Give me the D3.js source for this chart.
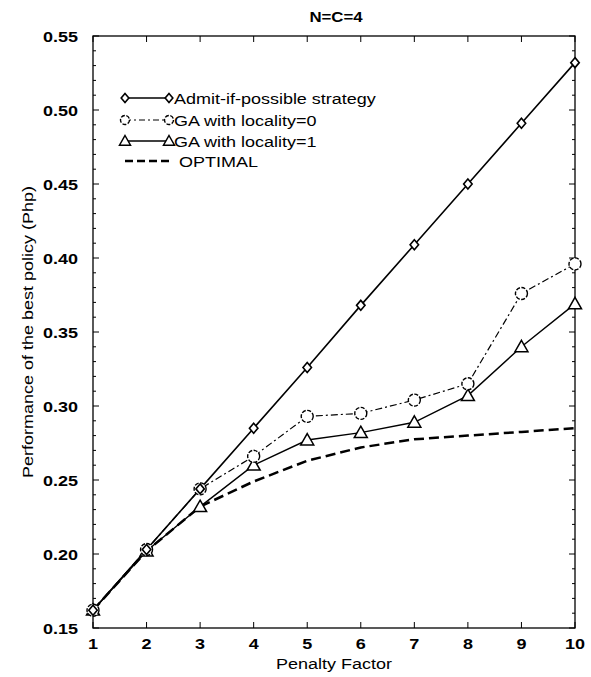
<!DOCTYPE html>
<html><head><meta charset="utf-8">
<script src="https://cdn.jsdelivr.net/npm/d3@7"></script>
<style>body{margin:0;background:#fff}</style></head>
<body><svg id="c" width="591" height="677"></svg>
<script>
const penalty = [1,2,3,4,5,6,7,8,9,10];
const admit = [0.162,0.203,0.244,0.285,0.326,0.368,0.409,0.450,0.491,0.532];
const gaLoc0 = [0.162,0.203,0.244,0.266,0.293,0.295,0.304,0.315,0.376,0.396];
const gaLoc1 = [0.162,0.202,0.232,0.260,0.277,0.282,0.289,0.307,0.340,0.369];
const optimal = [0.162,0.202,0.232,0.249,0.263,0.272,0.2775,0.280,0.2825,0.285];
const yTicks = [0.15,0.20,0.25,0.30,0.35,0.40,0.45,0.50,0.55];
const legendLabels = ["Admit-if-possible strategy","GA with locality=0","GA with locality=1","OPTIMAL"];

const svg = d3.select("#c");
const L=93,R=575,T=36,B=628;
const x = d3.scaleLinear().domain([1,10]).range([L,R]);
const y = d3.scaleLinear().domain([0.15,0.55]).range([B,T]);
const font = "'Liberation Sans', Arial, Helvetica, sans-serif";
const SX = 1.2; // horizontal stretch of the scanned text

function txt(px,py,str,opt){
  opt = opt||{};
  const rot = opt.rot ? " rotate("+opt.rot+")" : "";
  return svg.append("text").attr("transform",`translate(${px},${py})${rot} scale(${SX},1)`)
    .attr("text-anchor",opt.anchor||"start").attr("font-family",font)
    .attr("font-size",opt.size||15).attr("font-weight",opt.weight||"normal").text(str);
}

// frame
svg.append("rect").attr("x",L).attr("y",T).attr("width",R-L).attr("height",B-T)
  .attr("fill","none").attr("stroke","#000").attr("stroke-width",1.3);

// ticks
const minor = d3.range(0.15,0.5501,0.01);
minor.forEach(v=>{
  const isMaj = yTicks.some(t=>Math.abs(t-v)<1e-6);
  const len = isMaj?6:3;
  svg.append("line").attr("x1",L).attr("x2",L+len).attr("y1",y(v)).attr("y2",y(v)).attr("stroke","#000").attr("stroke-width",1);
  svg.append("line").attr("x1",R).attr("x2",R-len).attr("y1",y(v)).attr("y2",y(v)).attr("stroke","#000").attr("stroke-width",1);
});
penalty.forEach(v=>{
  svg.append("line").attr("x1",x(v)).attr("x2",x(v)).attr("y1",B).attr("y2",B-6).attr("stroke","#000");
  svg.append("line").attr("x1",x(v)).attr("x2",x(v)).attr("y1",T).attr("y2",T+6).attr("stroke","#000");
});
// tick labels
yTicks.forEach(d=>txt(L-15,y(d)+5.5,d3.format(".2f")(d),{anchor:"end",weight:"bold"}));
penalty.forEach(d=>txt(x(d),B+21,d,{anchor:"middle",weight:"bold"}));

// labels
txt(336,22,"N=C=4",{anchor:"middle",weight:"bold",size:14});
txt(334,669,"Penalty Factor",{anchor:"middle"});
txt(33,(T+B)/2,"Performance of the best  policy (Php)",{anchor:"middle",rot:-90});

const line = d3.line().x((d,i)=>x(penalty[i])).y(d=>y(d));
function drawLine(data, dash, w){
  svg.append("path").attr("d",line(data)).attr("fill","none").attr("stroke","#000")
    .attr("stroke-width",w).attr("stroke-dasharray",dash);
}
drawLine(optimal,"10,5",2.5);
drawLine(gaLoc0,"7,3,2,3",1.2);
drawLine(gaLoc1,null,1.4);
drawLine(admit,null,1.6);

function diamond(g,cx,cy,s){ s=s||5; g.append("path").attr("d",`M${cx},${cy-s}L${cx+s*0.85},${cy}L${cx},${cy+s}L${cx-s*0.85},${cy}Z`).attr("fill","#fff").attr("stroke","#000").attr("stroke-width",1.6); }
function circle(g,cx,cy,s){ s=s||6; g.append("circle").attr("cx",cx).attr("cy",cy).attr("r",s).attr("fill","#fff").attr("stroke","#000").attr("stroke-width",1.4).attr("stroke-dasharray","4,1.5"); }
function tri(g,cx,cy,s){ s=s||6.5; g.append("path").attr("d",`M${cx},${cy-s}L${cx+s},${cy+s*0.75}L${cx-s},${cy+s*0.75}Z`).attr("fill","#fff").attr("stroke","#000").attr("stroke-width",1.5); }

const g = svg.append("g");
gaLoc1.forEach((v,i)=>tri(g,x(penalty[i]),y(v)));
gaLoc0.forEach((v,i)=>circle(g,x(penalty[i]),y(v)));
admit.forEach((v,i)=>diamond(g,x(penalty[i]),y(v)));

// legend
const lg = svg.append("g");
const ly = [98,120,141,161], lx1=125, lx2=169;
const markers=[diamond,circle,tri,null];
const msz=[4.5,4.5,5.5,0];
const dashes=[null,"6,3,2,3",null,"8,4"];
const widths=[1.4,1.2,1.4,2.4];
legendLabels.forEach((t,i)=>{
  lg.append("line").attr("x1",lx1).attr("x2",lx2).attr("y1",ly[i]).attr("y2",ly[i])
    .attr("stroke","#000").attr("stroke-width",widths[i]).attr("stroke-dasharray",dashes[i]);
  if(markers[i]){ markers[i](lg,lx1,ly[i],msz[i]); markers[i](lg,lx2,ly[i],msz[i]); }
  txt(lx2+(i==3?10:5),ly[i]+5.5,t);
});
</script></body></html>
